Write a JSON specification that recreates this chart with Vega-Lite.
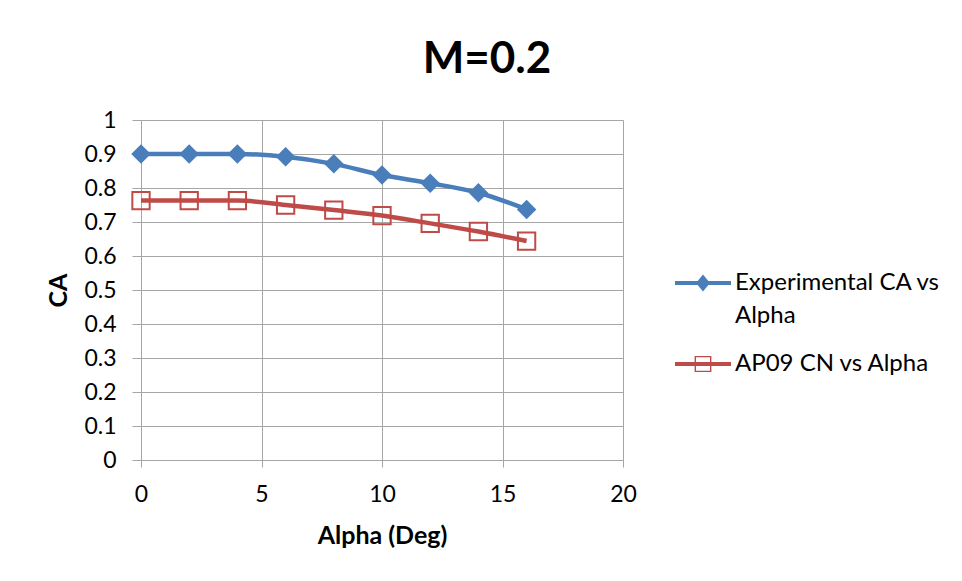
{
  "$schema": "https://vega.github.io/schema/vega-lite/v6.json",
  "width": 482,
  "height": 340,
  "autosize": {"type": "none"},
  "padding": {"left": 141, "top": 120, "right": 339, "bottom": 121},
  "background": "white",
  "config": {"view": {"stroke": null}, "font": "Lato"},
  "title": {"text": "M=0.2", "font": "Lato", "fontSize": 44, "fontWeight": "bold", "color": "black", "anchor": "middle", "frame": "group", "dx": 105, "offset": -8, "baseline": "alphabetic"},
  "data": {"values": [
    {"alpha": 0, "ca": 0.9, "series": "Experimental CA vs Alpha"},
    {"alpha": 2, "ca": 0.9, "series": "Experimental CA vs Alpha"},
    {"alpha": 4, "ca": 0.9, "series": "Experimental CA vs Alpha"},
    {"alpha": 6, "ca": 0.892, "series": "Experimental CA vs Alpha"},
    {"alpha": 8, "ca": 0.871, "series": "Experimental CA vs Alpha"},
    {"alpha": 10, "ca": 0.838, "series": "Experimental CA vs Alpha"},
    {"alpha": 12, "ca": 0.814, "series": "Experimental CA vs Alpha"},
    {"alpha": 14, "ca": 0.786, "series": "Experimental CA vs Alpha"},
    {"alpha": 16, "ca": 0.737, "series": "Experimental CA vs Alpha"},
    {"alpha": 0, "ca": 0.763, "series": "AP09 CN vs Alpha"},
    {"alpha": 2, "ca": 0.763, "series": "AP09 CN vs Alpha"},
    {"alpha": 4, "ca": 0.763, "series": "AP09 CN vs Alpha"},
    {"alpha": 6, "ca": 0.75, "series": "AP09 CN vs Alpha"},
    {"alpha": 8, "ca": 0.735, "series": "AP09 CN vs Alpha"},
    {"alpha": 10, "ca": 0.719, "series": "AP09 CN vs Alpha"},
    {"alpha": 12, "ca": 0.696, "series": "AP09 CN vs Alpha"},
    {"alpha": 14, "ca": 0.672, "series": "AP09 CN vs Alpha"},
    {"alpha": 16, "ca": 0.644, "series": "AP09 CN vs Alpha"}
  ]},
  "encoding": {
    "x": {"field": "alpha", "type": "quantitative", "scale": {"domain": [0, 20], "nice": false},
      "axis": {"values": [0, 5, 10, 15, 20], "grid": true, "gridColor": "#a6a6a6", "domainColor": "#a6a6a6", "tickColor": "#a6a6a6", "tickSize": 7, "labelPadding": 16, "labelFlush": false, "labelFontSize": 23, "labelColor": "#000000", "labelFont": "Lato",
        "title": "Alpha (Deg)", "titleFont": "Lato", "titleFontSize": 25, "titleFontWeight": "bold", "titleColor": "#000000", "titleX": 241, "titleY": 83, "titleBaseline": "alphabetic", "titleAlign": "center", "titleAnchor": null}},
    "y": {"field": "ca", "type": "quantitative", "scale": {"domain": [0, 1], "nice": false},
      "axis": {"values": [0, 0.1, 0.2, 0.3, 0.4, 0.5, 0.6, 0.7, 0.8, 0.9, 1], "format": ".1~f", "grid": true, "gridColor": "#a6a6a6", "domainColor": "#a6a6a6", "tickColor": "#a6a6a6", "tickSize": 9, "labelPadding": 16, "labelFlush": false, "labelFontSize": 23, "labelColor": "#000000", "labelFont": "Lato",
        "title": "CA", "titleFont": "Lato", "titleFontSize": 25, "titleFontWeight": "bold", "titleColor": "#000000", "titleAngle": -90, "titleX": -83, "titleY": 170, "titleAlign": "center", "titleBaseline": "middle", "titleAnchor": null}}
  },
  "layer": [
    {
      "mark": {"type": "line", "interpolate": "monotone", "strokeWidth": 4.5},
      "encoding": {
        "color": {"field": "series", "type": "nominal",
          "scale": {"domain": ["Experimental CA vs Alpha", "AP09 CN vs Alpha"], "range": ["#4a7ebb", "#be4b48"]},
          "legend": {"title": null, "orient": "none", "legendX": 534, "legendY": 135, "padding": 0,
            "symbolSize": 3136, "symbolType": "M-1,0H1", "labelFont": "Lato", "labelFontSize": 24, "labelColor": "#000000", "labelOffset": 4, "labelLimit": 400, "rowPadding": 8,
            "labelExpr": "datum.label == 'Experimental CA vs Alpha' ? ['Experimental CA vs', 'Alpha'] : datum.label",
            "encode": {
              "symbols": {"update": {
                "shape": {"signal": "datum.value == 'Experimental CA vs Alpha' ? 'M-1,-0.075H1V0.075H-1Z M0,-0.3L0.25,0L0,0.3L-0.25,0Z' : 'M-1,-0.07H1V0.07H-1Z M-0.3,-0.29H0.3V0.29H-0.3Z M-0.25,-0.24V0.24H0.25V-0.24Z'"},
                "fill": {"signal": "datum.value == 'Experimental CA vs Alpha' ? '#4a7ebb' : '#be4b48'"},
                "stroke": {"value": "transparent"},
                "strokeWidth": {"value": 0},
                "opacity": {"value": 1}
              }},
              "labels": {"update": {
                "lineHeight": {"value": 33}
              }}
            }}
        }
      }
    },
    {
      "transform": [{"filter": "datum.series == 'Experimental CA vs Alpha'"}],
      "mark": {"type": "point", "shape": "diamond", "filled": true, "color": "#4a7ebb", "size": 380, "opacity": 1}
    },
    {
      "transform": [{"filter": "datum.series == 'AP09 CN vs Alpha'"}],
      "mark": {"type": "point", "shape": "square", "filled": false, "stroke": "#be4b48", "fill": "transparent", "strokeWidth": 2, "size": 300, "opacity": 1}
    }
  ]
}
